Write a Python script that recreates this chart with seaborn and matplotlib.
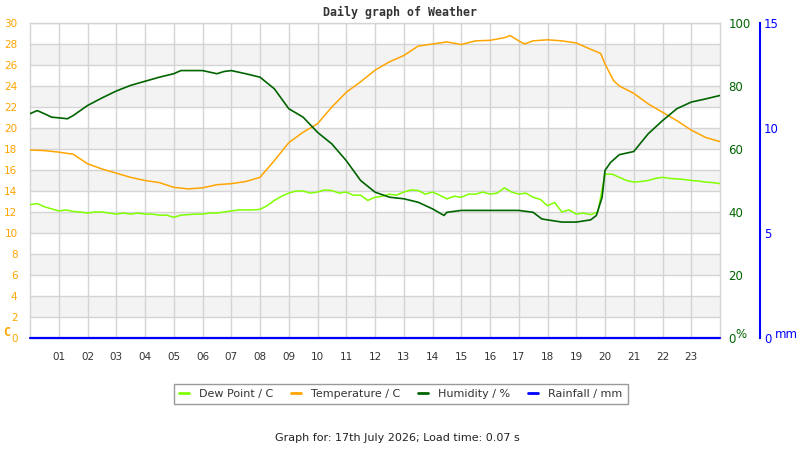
import matplotlib
matplotlib.use("Agg")
import matplotlib.pyplot as plt
from matplotlib.lines import Line2D
import seaborn as sns
import pandas as pd

# ---------------- data ----------------
temp_hours = [0, 0.5, 1, 1.5, 2, 2.5, 3, 3.5, 4, 4.5, 5, 5.5, 6, 6.5, 7, 7.5, 8, 8.5, 9, 9.5,
              10, 10.5, 11, 11.5, 12, 12.5, 13, 13.5, 14, 14.5, 15, 15.5, 16, 16.5, 16.7, 17,
              17.2, 17.5, 18, 18.5, 19, 19.5, 19.85, 20, 20.3, 20.5, 21, 21.5, 22, 22.5, 23,
              23.5, 24]
temp_values = [17.9, 17.85, 17.7, 17.5, 16.6, 16.1, 15.7, 15.3, 15.0, 14.8, 14.35, 14.2, 14.3,
               14.6, 14.7, 14.9, 15.3, 16.9, 18.6, 19.6, 20.4, 22.0, 23.4, 24.4, 25.5, 26.3,
               26.9, 27.8, 28.0, 28.2, 27.95, 28.3, 28.35, 28.6, 28.8, 28.3, 28.0, 28.3, 28.4,
               28.3, 28.1, 27.5, 27.1, 26.1, 24.5, 24.0, 23.3, 22.3, 21.5, 20.7, 19.8, 19.1, 18.7]

hum_hours = [0, 0.25, 0.5, 0.75, 1, 1.3, 1.5, 2, 2.5, 3, 3.5, 4, 4.5, 5, 5.25, 5.5, 6, 6.5,
             6.75, 7, 7.5, 8, 8.5, 9, 9.5, 10, 10.5, 11, 11.5, 12, 12.5, 13, 13.5, 14, 14.4,
             14.5, 15, 15.5, 16, 16.5, 17, 17.5, 17.8, 18, 18.5, 19, 19.5, 19.7, 19.9, 20,
             20.2, 20.5, 21, 21.5, 22, 22.5, 23, 23.5, 24]
hum_values = [71.2, 72.2, 71.2, 70.1, 69.9, 69.6, 70.6, 73.8, 76.2, 78.4, 80.2, 81.5, 82.8,
              83.9, 84.9, 84.9, 84.9, 83.9, 84.6, 84.9, 83.9, 82.8, 79.1, 72.8, 70.1, 65.3,
              61.6, 56.3, 50.0, 46.3, 44.7, 44.2, 43.1, 41.0, 38.9, 39.9, 40.5, 40.5, 40.5,
              40.5, 40.5, 39.9, 37.8, 37.5, 36.8, 36.8, 37.5, 38.9, 44.7, 53.2, 55.8, 58.2,
              59.2, 64.8, 69.0, 72.8, 74.9, 75.9, 77.0]

dew_hours = [i * 0.25 for i in range(97)]
dew_values = [12.7, 12.8, 12.5, 12.3, 12.1, 12.2, 12.05, 12.0, 11.9, 12.0, 12.0, 11.9,
              11.8, 11.9, 11.8, 11.9, 11.8, 11.8, 11.7, 11.7, 11.5, 11.7, 11.75, 11.8,
              11.8, 11.9, 11.9, 12.0, 12.1, 12.2, 12.2, 12.2, 12.25, 12.6, 13.1, 13.5,
              13.8, 14.0, 14.0, 13.8, 13.9, 14.1, 14.05, 13.8, 13.9, 13.6, 13.6, 13.1,
              13.4, 13.5, 13.7, 13.6, 13.9, 14.1, 14.05, 13.7, 13.9, 13.6, 13.25, 13.5,
              13.4, 13.7, 13.7, 13.9, 13.7, 13.8, 14.3, 13.9, 13.7, 13.8, 13.4, 13.2,
              12.6, 12.9, 12.0, 12.2, 11.8, 11.9, 11.75, 12.0, 15.6, 15.6, 15.3, 15.0,
              14.85, 14.9, 15.0, 15.2, 15.3, 15.2, 15.15, 15.1, 15.0, 14.95, 14.85, 14.8, 14.7]

rain_hours = [0, 24]
rain_values = [0, 0]

hour_labels = ["%02d" % h for h in range(1, 24)]
temp_ticks = list(range(0, 31, 2))
hum_ticks = [0, 20, 40, 60, 80, 100]
rain_ticks = [0, 5, 10, 15]

title = "Daily graph of Weather"
footer = "Graph for: 17th July 2026; Load time: 0.07 s"
legend_labels = ["Dew Point / C", "Temperature / C", "Humidity / %", "Rainfall / mm"]

# ---------------- style ----------------
sns.set_style("white")
plt.rcParams["font.family"] = ["DejaVu Sans"]

C_DEW = "#80ff00"
C_TEMP = "#ffa500"
C_HUM = "#006400"
C_RAIN = "#0000ff"
C_GRID = "#d4d4d4"
C_BAND = "#f3f3f3"
C_TEXT = "#333333"

fig = plt.figure(figsize=(8, 4.5), dpi=100)
ax = fig.add_axes([30 / 800, 1 - 338 / 450, 690 / 800, 315 / 450])
ax.set_facecolor("white")

# alternating bands
for lo in range(2, 30, 4):
    ax.axhspan(lo, lo + 2, color=C_BAND, zorder=0, lw=0)

ax.set_xlim(0, 24)
ax.set_ylim(0, 30)
ax.set_xticks(range(1, 24))
ax.set_xticklabels(hour_labels)
ax.set_yticks(temp_ticks)
ax.grid(True, color=C_GRID, lw=1, zorder=0.5)
ax.set_axisbelow(True)
ax.tick_params(axis="x", length=0, pad=10, labelsize=7.5, labelcolor=C_TEXT)
ax.tick_params(axis="y", length=0, pad=9, labelsize=7.5, labelcolor=C_TEMP)
for s in ax.spines.values():
    s.set_color(C_GRID)
    s.set_linewidth(1)

df_dew = pd.DataFrame({"hour": dew_hours, "value": dew_values})
df_temp = pd.DataFrame({"hour": temp_hours, "value": temp_values})
df_hum = pd.DataFrame({"hour": hum_hours, "value": hum_values})
df_rain = pd.DataFrame({"hour": rain_hours, "value": rain_values})

sns.lineplot(data=df_dew, x="hour", y="value", ax=ax, color=C_DEW, lw=1.1,
             estimator=None, sort=False, zorder=3)
sns.lineplot(data=df_temp, x="hour", y="value", ax=ax, color=C_TEMP, lw=1.1,
             estimator=None, sort=False, zorder=3)
ax.set_xlabel("")
ax.set_ylabel("")

# humidity axis
ax2 = ax.twinx()
sns.lineplot(data=df_hum, x="hour", y="value", ax=ax2, color=C_HUM, lw=1.2,
             estimator=None, sort=False)
ax2.set_ylim(0, 100)
ax2.set_yticks(hum_ticks)
ax2.tick_params(axis="y", length=0, pad=6, labelsize=8.5, labelcolor=C_HUM)
ax2.set_ylabel("")
ax2.set_xlabel("")
for s in ax2.spines.values():
    s.set_visible(False)

# rainfall axis
ax3 = ax.twinx()
sns.lineplot(data=df_rain, x="hour", y="value", ax=ax3, color=C_RAIN, lw=1.6,
             estimator=None, sort=False, clip_on=False)
ax3.set_ylim(0, 15)
ax3.set_xlim(0, 24)
ax3.set_yticks(rain_ticks)
ax3.spines["right"].set_position(("axes", (760 - 30) / 690))
for k in ["top", "left", "bottom"]:
    ax3.spines[k].set_visible(False)
ax3.spines["right"].set_color(C_RAIN)
ax3.spines["right"].set_linewidth(1.5)
ax3.tick_params(axis="y", length=0, pad=3, labelsize=8.5, labelcolor=C_RAIN)
ax3.set_ylabel("")
ax3.set_xlabel("")
ax.set_xlim(0, 24)

# unit labels
fig.text(3 / 800, 1 - 333 / 450, "C", color=C_TEMP, fontsize=8.5, fontweight="bold",
         family="DejaVu Sans Mono", va="center", ha="left")
fig.text(735 / 800, 1 - 334 / 450, "%", color=C_HUM, fontsize=8.5, va="center", ha="left")
fig.text(775 / 800, 1 - 334 / 450, "mm", color=C_RAIN, fontsize=8.5, va="center", ha="left")

# title & footer
fig.text(400 / 800, 1 - 12 / 450, title, color=C_TEXT, fontsize=8.4, fontweight="bold",
         family="DejaVu Sans Mono", ha="center", va="center")
fig.text(397 / 800, 1 - 438 / 450, footer, color="#222222", fontsize=8, ha="center", va="center")

# legend
handles = [Line2D([], [], color=c, lw=2) for c in (C_DEW, C_TEMP, C_HUM, C_RAIN)]
leg = fig.legend(handles, legend_labels, loc="center", bbox_to_anchor=(401 / 800, 1 - 394 / 450),
                 ncol=4, fontsize=8, frameon=True, fancybox=False, handlelength=0.9,
                 handletextpad=0.9, columnspacing=1.6, borderpad=0.45, labelcolor=C_TEXT)
leg.get_frame().set_edgecolor("#808080")
leg.get_frame().set_linewidth(1)

fig.savefig("out.png", dpi=100)
